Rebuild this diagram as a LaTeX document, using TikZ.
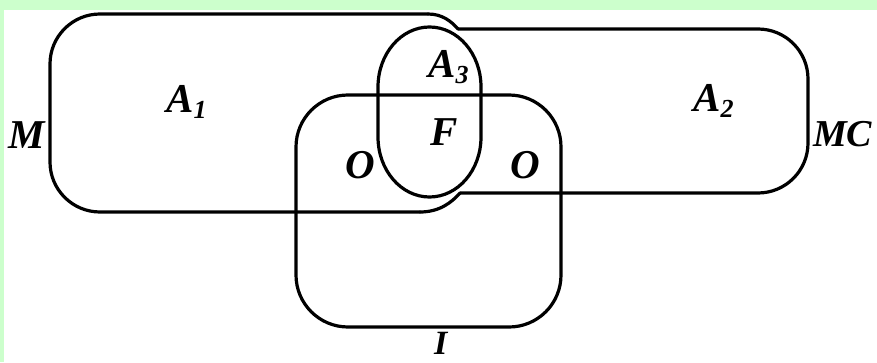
\documentclass[tikz,border=0pt]{standalone}
\usepackage{fontspec}
\setmainfont{Liberation Serif}
\definecolor{bggreen}{RGB}{204,255,204}
\newcommand\mysub[1]{\raisebox{-6pt}{\fontsize{26}{26}\selectfont #1}}
\begin{document}
\begin{tikzpicture}[x=1pt,y=1pt,
  outline/.style={line width=3.2pt, line cap=round, line join=round},
  lbl/.style={inner sep=0pt, anchor=base west, font=\fontsize{41}{41}\selectfont\bfseries\itshape}]
\useasboundingbox (0,0) rectangle (877,362);
\fill[bggreen] (0,0) rectangle (877,362);
\fill[white] (4,0) rectangle (877,352);
% junctions where A1 runs into A2
\coordinate (jt) at (458,333);
\coordinate (jb) at (460,169);
% A1 (M)
\draw[outline, rounded corners=50pt] (428,348) -- (50,348) -- (50,150) -- (420,150);
\draw[outline] (428,348) .. controls (442,348) and (451,341) .. (jt);
\draw[outline] (420,150) .. controls (440,150) and (452,160) .. (jb);
% A2 (MC)
\draw[outline, rounded corners=50pt] (jt) -- (808,333) -- (808,169) -- (jb);
% A3 (oval)
\draw[outline] (481,225) -- (481,275)
  arc[start angle=0, end angle=180, x radius=51.5pt, y radius=60pt]
  -- (378,225)
  arc[start angle=180, end angle=360, x radius=51.5pt, y radius=60pt] -- cycle;
% I
\draw[outline, rounded corners=52pt] (296,35) rectangle (561,267);
% labels
\node[lbl] (lM) at (8,214) {M};
\node[lbl] (lA1) at (166,249) {A\mysub{1}};
\node[lbl] (lA3) at (428,284) {A\mysub{3}};
\node[lbl] (lF) at (430,217) {F};
\node[lbl] (lO1) at (345,184) {O};
\node[lbl] (lO2) at (510,184) {O};
\node[lbl] (lA2) at (693,250) {A\mysub{2}};
\node[lbl, font=\fontsize{38}{38}\selectfont\bfseries\itshape] (lMC) at (813,215) {MC};
\node[lbl, font=\fontsize{34}{34}\selectfont\bfseries\itshape] (lI) at (434,8) {I};
\end{tikzpicture}
\end{document}
